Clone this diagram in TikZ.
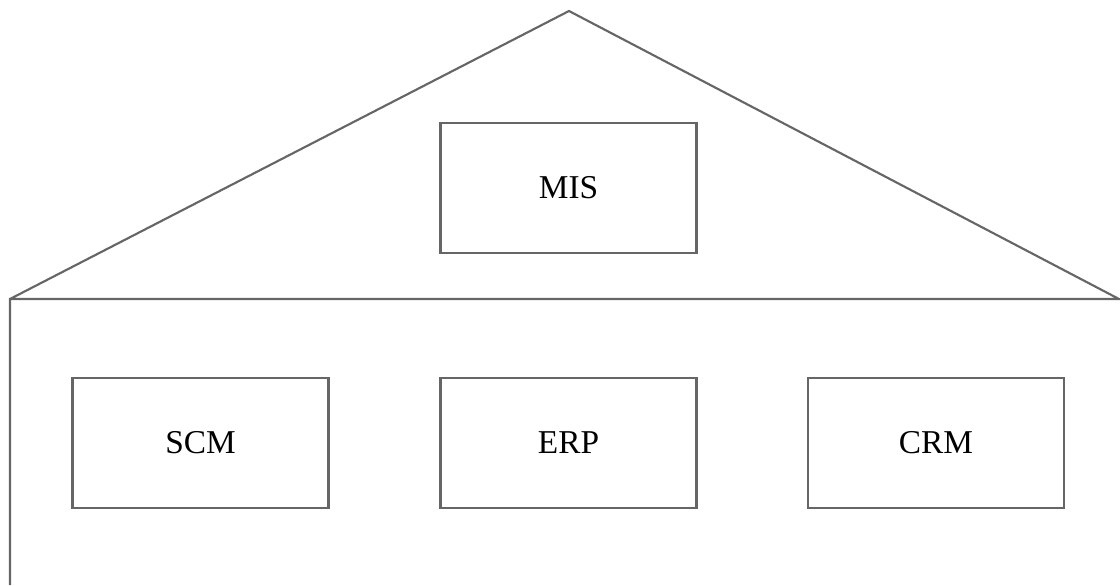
\documentclass[tikz,border=0pt]{standalone}
\usepackage{fontspec}
\setmainfont{Liberation Serif}
\definecolor{linegray}{HTML}{666666}
\begin{document}
\begin{tikzpicture}[x=0.75pt,y=-0.75pt,
  line/.style={draw=linegray,line width=1.6pt,line join=miter},
  modbox/.style={draw=linegray,line width=1.6pt,minimum width=256*0.75pt,minimum height=130*0.75pt,inner sep=0pt,font=\fontsize{25}{30}\selectfont,text=black}]
\useasboundingbox (0,0) rectangle (1120,585);
\coordinate (apex) at (569,11);
\coordinate (eaveL) at (10,299);
\coordinate (eaveR) at (1119,299);
\coordinate (floorL) at (10,585);
\draw[line] (eaveL) -- (apex) -- (eaveR) -- (eaveL) -- (floorL);
\node[modbox] (mis) at (568.5,188) {MIS};
\node[modbox] (scm) at (200.5,443) {SCM};
\node[modbox] (erp) at (568.5,443) {ERP};
\node[modbox] (crm) at (936,443) {CRM};
\end{tikzpicture}
\end{document}
